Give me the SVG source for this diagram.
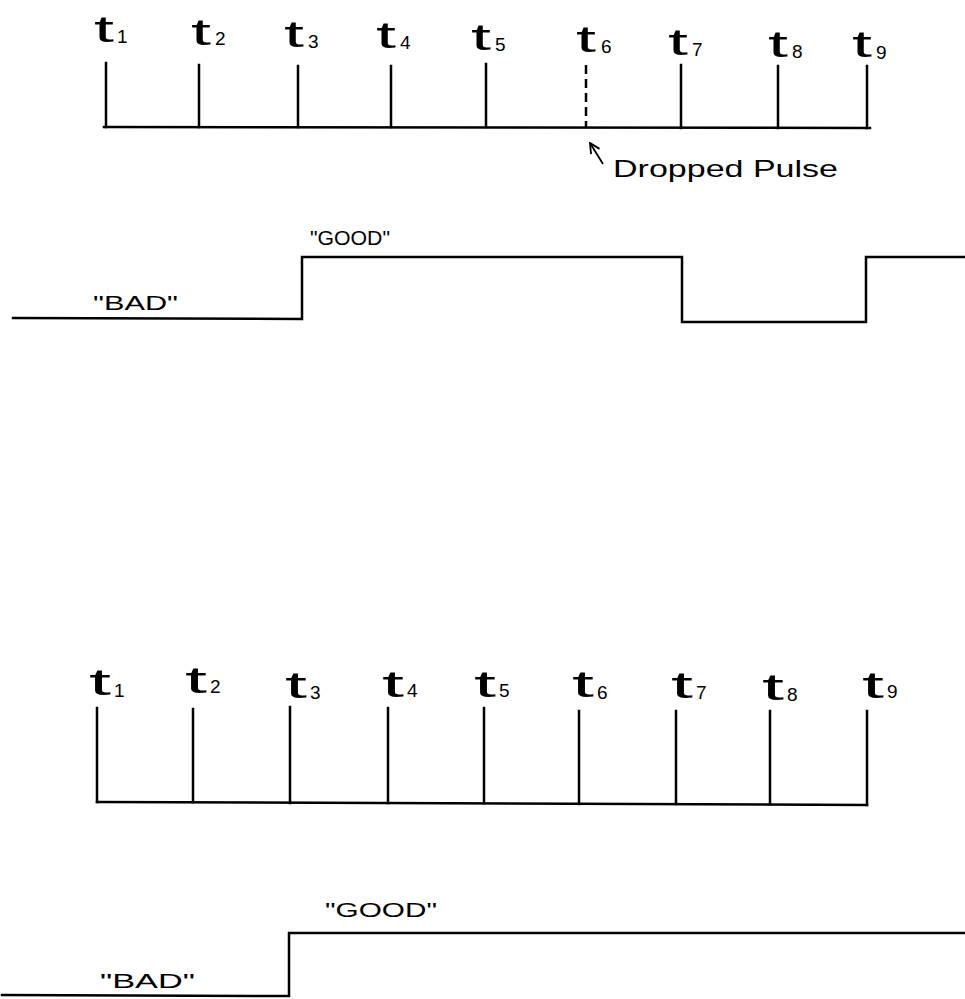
<svg xmlns="http://www.w3.org/2000/svg" width="965" height="999" viewBox="0 0 965 999">
<style>
.ln{stroke:#000;stroke-width:2.5;fill:none;stroke-linecap:square}
.dash{stroke:#000;stroke-width:2.5;fill:none;stroke-dasharray:9 5}
.t{font-family:"Liberation Sans",Arial,sans-serif;font-size:36px;fill:#000}
.s{font-family:"Liberation Sans",Arial,sans-serif;font-size:19px;fill:#000}
.lbl{font-family:"Liberation Sans",Arial,sans-serif;font-size:21px;fill:#000}
.note{font-family:"Liberation Sans",Arial,sans-serif;font-size:24px;fill:#000}
</style>
<defs>
<marker id="ah" markerWidth="12" markerHeight="12" refX="11" refY="6" orient="auto" markerUnits="userSpaceOnUse">
<path d="M1,1 L11,6 L1,11" fill="none" stroke="#000" stroke-width="1.8"/>
</marker>
</defs>
<rect width="965" height="999" fill="#fff"/>

<g id="top-timeline">
<path class="ln" d="M104,127 L870,128"/>
<path class="ln" d="M106,63 V127 M199,65 V127 M298,66 V127 M391,66 V127 M486,64 V127 M681,65 V128 M778,66 V128 M867,66 V128"/>
<path class="dash" d="M586,65 V127"/>
</g>
<g id="top-labels">
<text class="t" x="94" y="42" textLength="20" lengthAdjust="spacingAndGlyphs">t</text><text class="s" x="117" y="43">1</text>
<text class="t" x="191" y="45" textLength="20" lengthAdjust="spacingAndGlyphs">t</text><text class="s" x="215" y="45">2</text>
<text class="t" x="284" y="47" textLength="20" lengthAdjust="spacingAndGlyphs">t</text><text class="s" x="308" y="48">3</text>
<text class="t" x="376" y="48" textLength="20" lengthAdjust="spacingAndGlyphs">t</text><text class="s" x="400" y="49">4</text>
<text class="t" x="471" y="50" textLength="20" lengthAdjust="spacingAndGlyphs">t</text><text class="s" x="495" y="51">5</text>
<text class="t" x="576" y="52" textLength="20" lengthAdjust="spacingAndGlyphs">t</text><text class="s" x="601" y="53">6</text>
<text class="t" x="668" y="55" textLength="20" lengthAdjust="spacingAndGlyphs">t</text><text class="s" x="692" y="56">7</text>
<text class="t" x="768" y="57" textLength="20" lengthAdjust="spacingAndGlyphs">t</text><text class="s" x="792" y="58">8</text>
<text class="t" x="852" y="57" textLength="20" lengthAdjust="spacingAndGlyphs">t</text><text class="s" x="876" y="59">9</text>
</g>
<g id="dropped-pulse">
<text class="note" x="613" y="177" textLength="225" lengthAdjust="spacingAndGlyphs">Dropped Pulse</text>
</g>

<g id="top-waveform">
<path class="ln" d="M13,318 L302,319 V257 H682 V322 H866 V257 H965"/>
<text class="lbl" x="93" y="310" textLength="85" lengthAdjust="spacingAndGlyphs">"BAD"</text>
<text class="lbl" x="310" y="245" font-size="22" textLength="80" lengthAdjust="spacingAndGlyphs">"GOOD"</text>
</g>

<g id="bottom-timeline">
<path class="ln" d="M97,802 L867,805"/>
<path class="ln" d="M97,708 V802 M193,709 V802 M290,707 V803 M388,708 V803 M484,708 V803 M579,711 V804 M676,711 V804 M770,711 V804 M867,711 V805"/>
</g>
<g id="bottom-labels">
<text class="t" x="89" y="695" textLength="22" lengthAdjust="spacingAndGlyphs" font-size="40">t</text><text class="s" x="114" y="697">1</text>
<text class="t" x="185" y="693" textLength="22" lengthAdjust="spacingAndGlyphs" font-size="40">t</text><text class="s" x="210" y="693">2</text>
<text class="t" x="285" y="698" textLength="22" lengthAdjust="spacingAndGlyphs" font-size="40">t</text><text class="s" x="310" y="699">3</text>
<text class="t" x="382" y="697" textLength="22" lengthAdjust="spacingAndGlyphs" font-size="40">t</text><text class="s" x="407" y="697">4</text>
<text class="t" x="474" y="697" textLength="22" lengthAdjust="spacingAndGlyphs" font-size="40">t</text><text class="s" x="499" y="697">5</text>
<text class="t" x="572" y="697" textLength="22" lengthAdjust="spacingAndGlyphs" font-size="40">t</text><text class="s" x="597" y="699">6</text>
<text class="t" x="671" y="698" textLength="22" lengthAdjust="spacingAndGlyphs" font-size="40">t</text><text class="s" x="696" y="699">7</text>
<text class="t" x="762" y="700" textLength="22" lengthAdjust="spacingAndGlyphs" font-size="40">t</text><text class="s" x="787" y="701">8</text>
<text class="t" x="862" y="698" textLength="22" lengthAdjust="spacingAndGlyphs" font-size="40">t</text><text class="s" x="887" y="698">9</text>
</g>

<g id="bottom-waveform">
<path class="ln" d="M2,995 L289,996 V933 H965"/>
<text class="lbl" x="100" y="988" font-size="22" textLength="95" lengthAdjust="spacingAndGlyphs">"BAD"</text>
<text class="lbl" x="325" y="917" font-size="24" textLength="112" lengthAdjust="spacingAndGlyphs">"GOOD"</text>
</g>

<g id="connectors">
<line x1="603" y1="164" x2="590" y2="143" stroke="#000" stroke-width="1.8" marker-end="url(#ah)"/>
</g>
</svg>
